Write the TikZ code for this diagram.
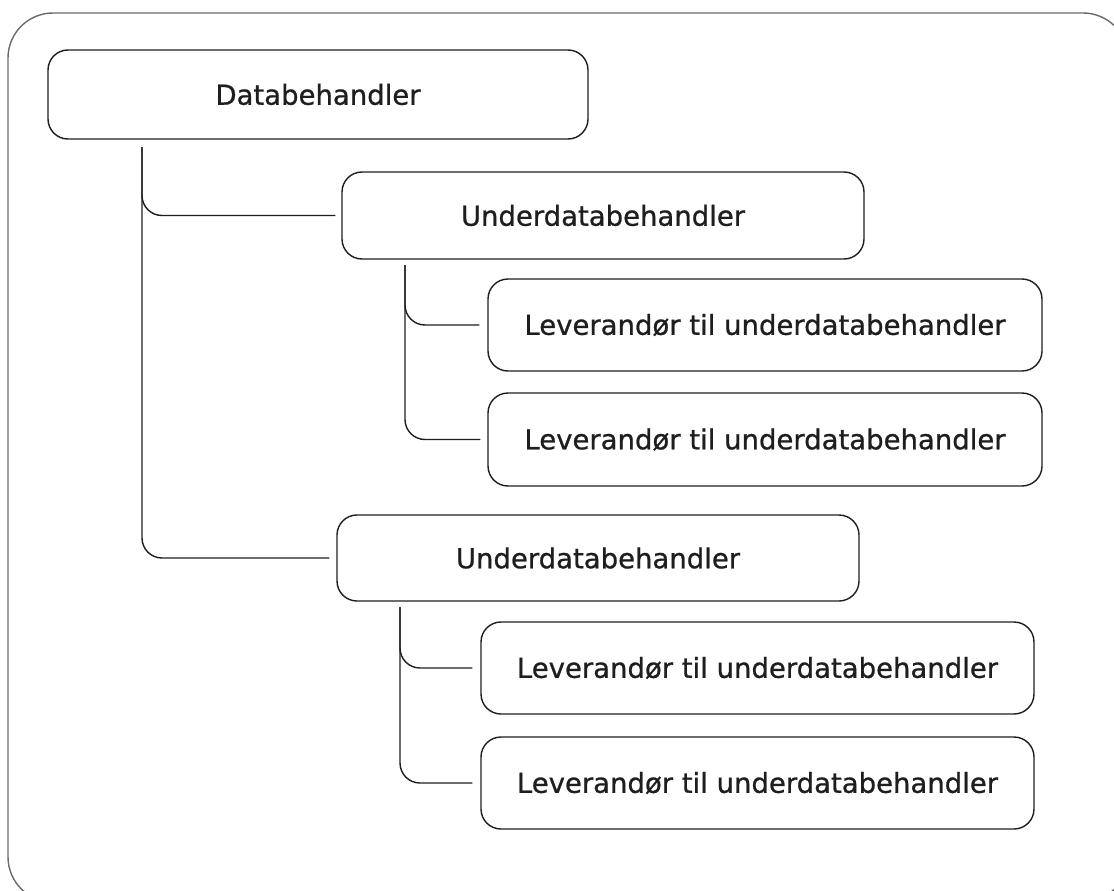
\documentclass[tikz,border=0pt]{standalone}
\usepackage{fontspec}
\setmainfont{DejaVu Sans}
\newfontfamily\handfont[FakeBold=0.8]{DejaVu Sans}
\definecolor{ink}{HTML}{1E1E1E}
\definecolor{frame}{HTML}{6A6A6A}
\tikzset{
  box/.style={draw=ink, line width=1.4pt, rounded corners=20pt, text=ink,
    font=\handfont\fontsize{27.5}{32}\selectfont, inner sep=0pt},
  link/.style={draw=ink, line width=1.4pt, rounded corners=20pt}
}
\begin{document}
\begin{tikzpicture}[x=1pt,y=-1pt]
      \useasboundingbox (0,0) rectangle (1114,891);
      \draw[frame, line width=1.4pt, rounded corners=45pt] (8,13) rectangle (1128,902);

      \node[box, minimum width=540pt, minimum height=89pt](data)at(318,94.5){Databehandler};
      \node[box, minimum width=522pt, minimum height=87pt](under1)at(603,215.5){Underdatabehandler};
      \node[box, minimum width=554pt, minimum height=92pt](lev1)at(765,325){Leverandør til underdatabehandler};
      \node[box, minimum width=554pt, minimum height=93pt](lev2)at(765,439.5){Leverandør til underdatabehandler};
      \node[box, minimum width=522pt, minimum height=86pt](under2)at(598,558){Underdatabehandler};
      \node[box, minimum width=553pt, minimum height=92pt](lev3)at(757.5,668){Leverandør til underdatabehandler};
      \node[box, minimum width=553pt, minimum height=92pt](lev4)at(757.5,783){Leverandør til underdatabehandler};

      \coordinate(root)at(142,147);
      \coordinate(sub1)at(405,265);
      \coordinate(sub2)at(400,607);

      \draw[link](root)|-([xshift=-6pt]under1.west);
      \draw[link](root)|-([xshift=-7pt]under2.west);
      \draw[link](sub1)|-([xshift=-8pt]lev1.west);
      \draw[link](sub1)|-([xshift=-7pt]lev2.west);
      \draw[link](sub2)|-([xshift=-8pt]lev3.west);
      \draw[link](sub2)|-([xshift=-8pt]lev4.west);
    \end{tikzpicture}
\end{document}
